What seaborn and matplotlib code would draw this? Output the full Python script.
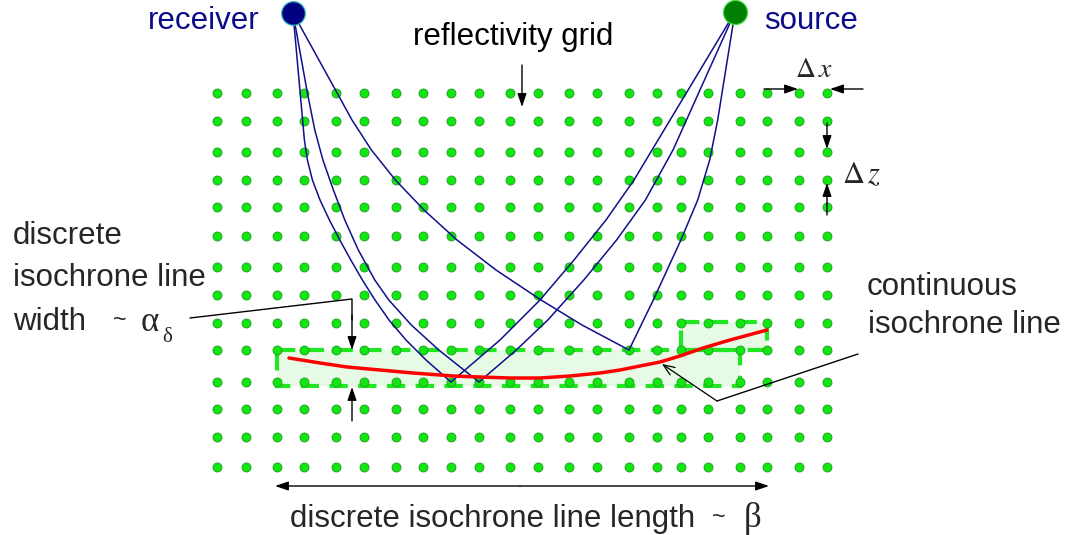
import matplotlib
matplotlib.use("Agg")
import matplotlib.pyplot as plt
import seaborn as sns
from matplotlib.patches import Rectangle

sns.set_theme(style="white")
plt.rcParams["font.family"] = ["Liberation Sans", "DejaVu Sans"]
plt.rcParams["mathtext.fontset"] = "stix"

# Sketch coordinates are in pixels (x to the right, z downwards).
# Reflectivity grid nodes
grid_x = [217, 246, 277, 304, 336, 364, 396, 423, 451, 479, 510,
          538, 569, 597, 629, 657, 681, 708, 740, 767, 799, 827]
grid_z = [93, 121, 152, 180, 207, 236, 267, 295, 323, 350, 382, 409, 437, 467]

receiver_xz = (293, 13)
source_xz = (735, 12)

# Curved ray legs from the receiver down to the reflection nodes
ray_rec_a_x = [293, 300.8, 304.4, 307.4, 312.4, 320, 329.4, 339.8, 350.8,
               362.4, 375, 389, 406, 426, 451]
ray_rec_a_z = [13, 100, 140, 160, 180, 200, 220, 240, 260, 280, 300, 320,
               340, 360, 382]
ray_rec_b_x = [293, 307.4, 314.8, 322.9, 333.4, 344.8, 358.3, 374.8, 388.8,
               411.3, 438.8, 479]
ray_rec_b_z = [13, 93, 130, 160, 190, 220, 250, 280, 300, 325, 350, 382]
ray_rec_c_x = [293, 352, 371.4, 395.4, 424, 457, 496, 541, 582, 629]
ray_rec_c_z = [13, 120, 150, 180, 210, 240, 270, 300, 325, 350]

# Ray legs from the source down to the same nodes
ray_src_a_x = [735, 634, 606, 574, 540, 500, 451]
ray_src_a_z = [12, 180, 220, 260, 300, 340, 382]
ray_src_b_x = [735, 673, 645.4, 616.6, 583.8, 547.8, 516.3, 479]
ray_src_b_z = [12, 150, 200, 240, 280, 320, 350, 382]
ray_src_c_x = [735, 717.7, 709.7, 697.7, 680.9, 653.3, 629]
ray_src_c_z = [12, 120, 160, 200, 240, 300, 350]

# Continuous isochrone line
iso_x = [289, 320, 347, 380, 413, 453, 480, 510, 540, 570, 600, 620,
         640, 660, 680, 703, 730, 767]
iso_z = [358, 363, 367, 370, 373, 376, 377, 378, 378, 376, 373, 370,
         366, 362, 356, 348, 340, 330]

W, H = 1067, 535
fig = plt.figure(figsize=(W / 100, H / 100), dpi=100)
ax = fig.add_axes([0, 0, 1, 1])

# Discrete isochrone band (two overlapping boxes)
boxes = [(277, 350, 740, 386), (681, 322, 767, 350)]
for x0, z0, x1, z1 in boxes:
    ax.add_patch(Rectangle((x0, z0), x1 - x0, z1 - z0, facecolor="#e6fae6",
                           edgecolor="none", zorder=1))
for x0, z0, x1, z1 in boxes:
    ax.add_patch(Rectangle((x0, z0), x1 - x0, z1 - z0, facecolor="none",
                           edgecolor="#22e622", lw=3.0, ls=(0, (4.4, 2.5)),
                           zorder=2))

# Grid nodes
gx = [x for z in grid_z for x in grid_x]
gz = [z for z in grid_z for x in grid_x]
sns.scatterplot(x=gx, y=gz, s=42, color="#12e612", edgecolor="#1f9a1f",
                linewidth=0.6, ax=ax, zorder=3, legend=False)

# Rays
ray_color = "#10108c"
for xs, zs in [(ray_rec_a_x, ray_rec_a_z), (ray_rec_b_x, ray_rec_b_z),
               (ray_rec_c_x, ray_rec_c_z), (ray_src_a_x, ray_src_a_z),
               (ray_src_b_x, ray_src_b_z), (ray_src_c_x, ray_src_c_z)]:
    sns.lineplot(x=xs, y=zs, sort=False, estimator=None, color=ray_color,
                 lw=1.1, ax=ax, zorder=4)

# Isochrone curve
sns.lineplot(x=iso_x, y=iso_z, sort=False, estimator=None, color="#ff0000",
             lw=2.5, ax=ax, zorder=5)

# Receiver and source
sns.scatterplot(x=[receiver_xz[0]], y=[receiver_xz[1]], s=290, color="#000080",
                edgecolor="#33bbbb", linewidth=0.9, ax=ax, zorder=6, legend=False)
sns.scatterplot(x=[source_xz[0]], y=[source_xz[1]], s=300, color="#008000",
                edgecolor="#44dd44", linewidth=0.9, ax=ax, zorder=6, legend=False)

navy = "#0b0b8c"
fs = 22.5
serif = ["Liberation Serif", "DejaVu Serif"]
ax.text(148, 29, "receiver", color=navy, fontsize=fs, va="baseline", ha="left")
ax.text(764, 29, "source", color=navy, fontsize=fs, va="baseline", ha="left")
ax.text(413, 45, "reflectivity grid", color="black", fontsize=fs, va="baseline")

ax.text(13, 244, "discrete", fontsize=fs, va="baseline")
ax.text(13, 286, "isochrone line", fontsize=fs, va="baseline")
ax.text(13, 330, "width", fontsize=fs, va="baseline")
ax.text(113, 327, "~", fontsize=17, va="baseline")
ax.text(141, 331, "α", fontsize=25, va="baseline", family=serif)
ax.text(162, 342, "δ", fontsize=15, va="baseline", family=serif)

ax.text(867, 295, "continuous", fontsize=fs, va="baseline")
ax.text(868, 333, "isochrone line", fontsize=fs, va="baseline")

ax.text(290, 527, "discrete isochrone line length", fontsize=fs, va="baseline")
ax.text(712, 524, "~", fontsize=17, va="baseline")
ax.text(744, 527, "β", fontsize=25, va="baseline", family=serif)

ax.text(795, 77, r"$\Delta\,x$", fontsize=20, va="baseline")
ax.text(842, 183, r"$\Delta\,z$", fontsize=22, va="baseline")


def arrow(tip, tail, style="-|>,head_length=0.5,head_width=0.17", lw=1.0):
    ax.annotate("", xy=tip, xytext=tail, zorder=7,
                arrowprops=dict(arrowstyle=style, color="black", lw=lw,
                                mutation_scale=16, shrinkA=0, shrinkB=0))


# Grid label pointer
arrow((522, 107), (522, 65))
# Grid spacing markers
arrow((798, 89), (764, 89))
arrow((830, 89), (863, 89))
arrow((827, 149), (827, 123))
arrow((827, 183), (827, 215))

# Band width markers
ax.plot([190, 352, 352], [318, 299, 320], color="black", lw=1.0, zorder=7)
arrow((352, 350), (352, 315))
arrow((352, 387), (352, 421))

# Continuous isochrone pointer
ax.plot([858, 717], [354, 401], color="black", lw=1.0, zorder=7)
arrow((662, 364), (717, 401), style="->,head_length=0.5,head_width=0.2", lw=0.9)

# Band length marker
arrow((275, 486), (520, 486))
arrow((769, 486), (520, 486))

ax.set_xlim(0, W)
ax.set_ylim(H, 0)
ax.axis("off")
fig.savefig("out.png", dpi=100)
